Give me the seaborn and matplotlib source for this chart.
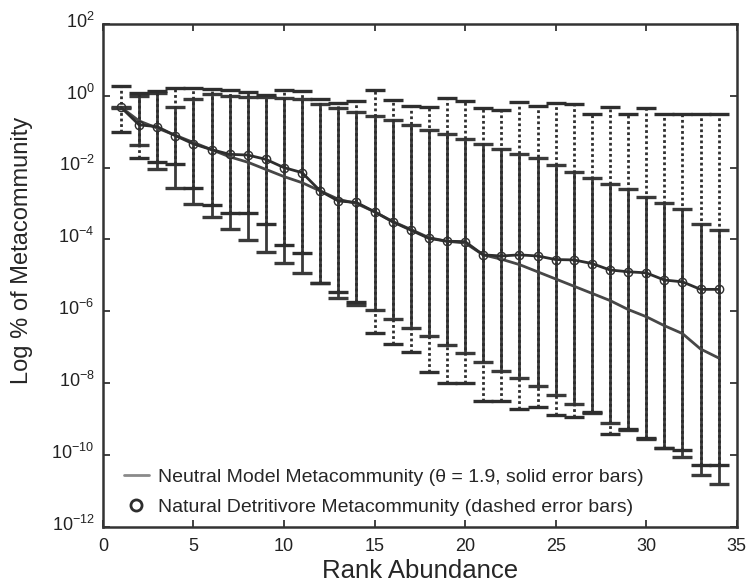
import numpy as np
import matplotlib
matplotlib.use("Agg")
import matplotlib.pyplot as plt
import matplotlib.transforms as mtransforms
import seaborn as sns
from matplotlib.lines import Line2D
from matplotlib.ticker import FixedLocator, FuncFormatter

# ----------------------------------------------------------------------------
# data (log10 of % of metacommunity)
# ----------------------------------------------------------------------------
rank = list(range(1, 35))

neutral_log = [-0.32, -0.70, -0.90, -1.10, -1.30, -1.50, -1.70, -1.85, -2.05, -2.25,
               -2.42, -2.65, -2.88, -3.00, -3.23, -3.50, -3.72, -3.95, -4.05, -4.10,
               -4.43, -4.55, -4.70, -4.90, -5.10, -5.30, -5.50, -5.70, -5.95, -6.15,
               -6.40, -6.62, -7.05, -7.30]
neutral_hi_log = [-0.30, 0.00, 0.07, -0.32, -0.09, 0.05, 0.00, -0.03, -0.03, -0.05,
                  -0.10, -0.23, -0.35, -0.44, -0.55, -0.67, -0.80, -0.94, -1.06, -1.21,
                  -1.34, -1.49, -1.62, -1.74, -1.93, -2.11, -2.28, -2.47, -2.60, -2.81,
                  -2.98, -3.16, -3.58, -3.74]
neutral_lo_log = [-0.34, -1.37, -2.04, -2.56, -3.00, -3.37, -3.72, -4.02, -4.34, -4.65,
                  -4.93, -5.22, -5.64, -5.83, -5.97, -6.22, -6.46, -6.70, -6.95, -7.17,
                  -7.41, -7.66, -7.87, -8.08, -8.33, -8.58, -8.82, -9.10, -9.31, -9.55,
                  -9.82, -10.07, -10.56, -10.81]

natural_log = [-0.32, -0.81, -0.86, -1.11, -1.34, -1.50, -1.63, -1.65, -1.77, -2.00,
               -2.14, -2.65, -2.93, -2.97, -3.23, -3.51, -3.74, -3.97, -4.05, -4.06,
               -4.43, -4.46, -4.43, -4.46, -4.56, -4.57, -4.67, -4.85, -4.90, -4.93,
               -5.13, -5.18, -5.39, -5.39]
natural_hi_log = [0.27, 0.07, 0.14, 0.21, 0.21, 0.19, 0.16, 0.10, 0.02, 0.16,
                  0.13, -0.09, -0.19, -0.14, 0.16, -0.11, -0.28, -0.30, -0.07, -0.14,
                  -0.35, -0.40, -0.18, -0.28, -0.21, -0.24, -0.51, -0.32, -0.51, -0.35,
                  -0.51, -0.51, -0.51, -0.51]
natural_lo_log = [-1.02, -1.74, -1.85, -1.91, -2.56, -3.04, -3.27, -3.27, -3.58, -4.16,
                  -4.39, -5.20, -5.46, -5.73, -6.60, -6.90, -7.14, -7.68, -8.01, -7.99,
                  -8.49, -8.49, -8.72, -8.66, -8.89, -8.94, -8.80, -9.42, -9.29, -9.53,
                  -9.80, -9.87, -10.27, -10.27]

neutral_label = "Neutral Model Metacommunity (\u03b8 = 1.9, solid error bars)"
natural_label = "Natural Detritivore Metacommunity (dashed error bars)"

# ----------------------------------------------------------------------------
# plot
# ----------------------------------------------------------------------------
sns.set_theme(style="ticks")
plt.rcParams['font.family'] = ['Liberation Sans', 'DejaVu Sans']
plt.rcParams['mathtext.fontset'] = 'custom'
plt.rcParams['mathtext.rm'] = 'Liberation Sans'
plt.rcParams['mathtext.it'] = 'Liberation Sans:italic'

x = np.array(rank)
neu = 10.0 ** np.array(neutral_log)
nat = 10.0 ** np.array(natural_log)
neu_err = [neu - 10.0 ** np.array(neutral_lo_log), 10.0 ** np.array(neutral_hi_log) - neu]
nat_err = [nat - 10.0 ** np.array(natural_lo_log), 10.0 ** np.array(natural_hi_log) - nat]

fig = plt.figure(figsize=(7.51, 5.84), dpi=100)
ax = fig.add_axes([0.137, 0.098, 0.844, 0.861])

dark = "#2e2e2e"

# solid error bars (neutral model)
ax.errorbar(x, neu, yerr=neu_err, fmt='none', ecolor="#3a3a3a", elinewidth=2.0,
            capsize=7, capthick=2.4, zorder=2)
# dotted error bars (natural data)
eb = ax.errorbar(x, nat, yerr=nat_err, fmt='none', ecolor=dark, elinewidth=2.0,
                 capsize=7, capthick=2.4, zorder=3)
eb[2][0].set_linestyle((0, (1, 1)))

sns.lineplot(x=x, y=neu, ax=ax, color="#474747", linewidth=2.0, zorder=4)
sns.lineplot(x=x, y=nat, ax=ax, color=dark, linewidth=2.0, marker='o',
             markersize=6, markerfacecolor='none', markeredgecolor=dark,
             markeredgewidth=1.0, zorder=5)

ax.set_yscale('log')
ax.set_ylim(1e-12, 1e2)
ax.set_xlim(0, 35)
ax.set_xticks(range(0, 36, 5))
ax.yaxis.set_major_locator(FixedLocator(10.0 ** np.arange(-12, 3, 2)))
ax.yaxis.set_minor_locator(FixedLocator([]))
ax.yaxis.set_major_formatter(FuncFormatter(lambda v, p: r"$10^{%d}$" % round(np.log10(v))))

ax.tick_params(direction='in', top=True, right=True, length=5, width=1.2,
               labelsize=13, colors='#222222')
ax.tick_params(axis='y', pad=6)
ax.tick_params(axis='x', pad=8)
for s in ax.spines.values():
    s.set_linewidth(1.8)
    s.set_color('#333333')

# y tick labels sit a little above their ticks
lift = mtransforms.ScaledTranslation(0, 3 / 72, fig.dpi_scale_trans)
for lab in ax.get_yticklabels():
    lab.set_transform(lab.get_transform() + lift)

ax.set_xlabel("Rank Abundance", fontsize=18.5, labelpad=3)
ax.set_ylabel("Log % of Metacommunity", fontsize=17)
ax.yaxis.set_label_coords(-0.11, 0.55)

handles = [Line2D([], [], color="#8a8a8a", linewidth=2.0),
           Line2D([], [], linestyle='none', marker='o', markersize=8,
                  markerfacecolor='none', markeredgecolor=dark, markeredgewidth=2.0)]
ax.legend(handles, [neutral_label, natural_label], loc='lower left', frameon=False,
          fontsize=14, handlelength=1.3, handletextpad=0.45, borderaxespad=0,
          borderpad=0, labelspacing=0.62, bbox_to_anchor=(0.033, 0.022))

fig.savefig("out.png", dpi=100)
